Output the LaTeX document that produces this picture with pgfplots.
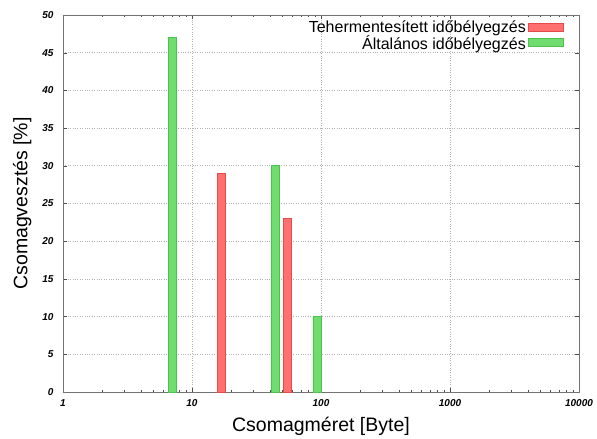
\documentclass[border=0pt]{standalone}
\usepackage{pgfplots}
\pgfplotsset{compat=1.18}
\usepackage{fontspec}
\setmainfont{Liberation Sans}

\definecolor{redfill}{RGB}{255,112,112}
\definecolor{reddraw}{RGB}{232,74,74}
\definecolor{greenfill}{RGB}{112,220,112}
\definecolor{greendraw}{RGB}{76,196,76}

\begin{document}
\begin{tikzpicture}
\begin{axis}[
  name=main,
  scale only axis,
  width=516pt, height=377pt,
  xmode=log,
  xmin=1, xmax=10000,
  ymin=0, ymax=50,
  ytick={0,5,...,50},
  xtick={1,10,100,1000,10000},
  xticklabels={1,10,100,1000,10000},
  /pgf/number format/assume math mode=true,
  ticklabel style={font=\fontsize{10}{11}\selectfont\bfseries\itshape},
  yticklabel style={xshift=-6pt},
  xticklabel style={yshift=-4pt},
  tick align=inside,
  major tick length=4pt, minor tick length=2.5pt,
  tick style={color=black!70},
  axis line style={color=black!55, line width=0.8pt},
  grid=major,
  major grid style={color=black!30, dotted, line width=0.6pt},
  xlabel={Csomagméret [Byte]},
  ylabel={Csomagvesztés [\%]},
  label style={font=\fontsize{19.5}{21}\selectfont},
  xlabel style={yshift=-4pt},
  ylabel style={yshift=4pt},
  legend style={draw=none, fill=none, at={(0.976,0.995)}, anchor=north east,
    font=\fontsize{16}{17}\selectfont, row sep=-3pt},
  legend cell align=right,
  legend plot pos=right,
  legend image code/.code={\draw[#1] (0pt,-3.5pt) rectangle (35pt,4.5pt);},
]
% Payload-free timestamping
\addplot[ybar, bar width=8pt, bar shift=0pt, fill=redfill, draw=reddraw, line width=0.6pt]
  coordinates {(17,29) (55,23)};
\addlegendentry{Tehermentesített időbélyegzés}
% General timestamping
\addplot[ybar, bar width=8pt, bar shift=0pt, fill=greenfill, draw=greendraw, line width=0.6pt]
  coordinates {(7,47) (44.5,30) (93,10)};
\addlegendentry{Általános időbélyegzés}
\end{axis}
% fixed page margins around the plot area
\pgfresetboundingbox
\path[use as bounding box] ([xshift=-63pt,yshift=-47pt]main.south west) rectangle ([xshift=18pt,yshift=15pt]main.north east);
\end{tikzpicture}
\end{document}
